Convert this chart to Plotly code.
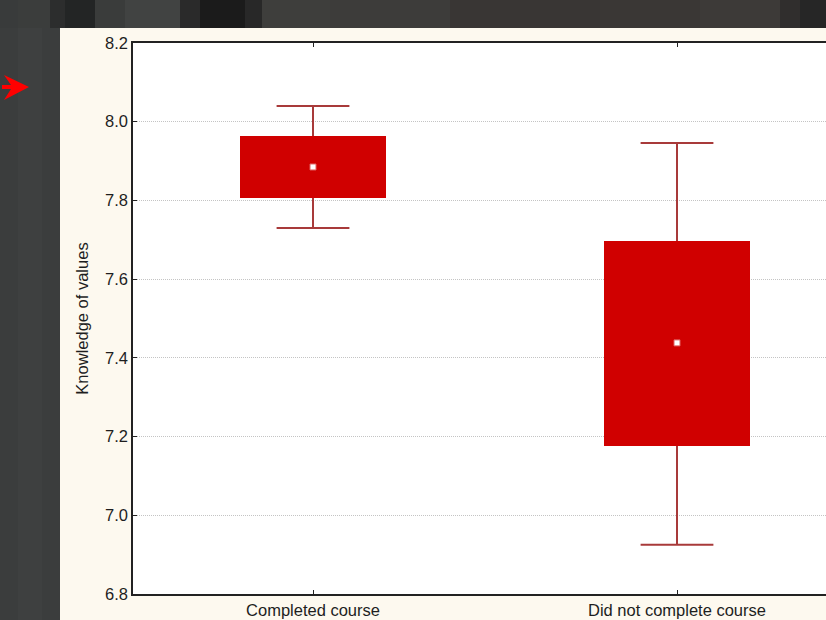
import plotly.graph_objects as go

# Group statistics: mean, box (mean ± SE) and whiskers (mean ± 1.96·SE)
groups = ["Completed course", "Did not complete course"]
means = [7.885, 7.438]
box_low = [7.806, 7.176]
box_high = [7.964, 7.697]
whisker_low = [7.730, 6.925]
whisker_high = [8.040, 7.946]

y_ticks = [6.8, 7.0, 7.2, 7.4, 7.6, 7.8, 8.0, 8.2]

W, H = 826, 620
ML, MR, MT, MB = 133, 0, 43, 26
PW, PH = W - ML - MR, H - MT - MB

BOX_FILL = "#d00000"
WHISKER = "#a83a3a"
CAP_HALF = 0.1
BOX_WIDTH = 0.4

xpos = list(range(len(groups)))

fig = go.Figure()

# boxes
fig.add_trace(go.Bar(
    x=xpos,
    base=box_low,
    y=[h - l for h, l in zip(box_high, box_low)],
    width=BOX_WIDTH,
    marker=dict(color=BOX_FILL, line=dict(width=0)),
    hoverinfo="skip",
    showlegend=False,
))

# whiskers with caps
wx, wy = [], []
for i, (bl, bh, lo, hi) in enumerate(zip(box_low, box_high, whisker_low, whisker_high)):
    wx += [i, i, None, i - CAP_HALF, i + CAP_HALF, None]
    wy += [bh, hi, None, hi, hi, None]
    wx += [i, i, None, i - CAP_HALF, i + CAP_HALF, None]
    wy += [bl, lo, None, lo, lo, None]
fig.add_trace(go.Scatter(
    x=wx, y=wy, mode="lines",
    line=dict(color=WHISKER, width=2),
    hoverinfo="skip", showlegend=False,
))

# mean markers
fig.add_trace(go.Scatter(
    x=xpos, y=means, mode="markers",
    marker=dict(symbol="square", size=6, color="white",
                line=dict(color="#e06060", width=1)),
    showlegend=False,
))


def px_to_paper(x, y):
    return (x - ML) / PW, (H - MB - y) / PH


def rect(x0, y0, x1, y1, color):
    a, b = px_to_paper(x0, y0)
    c, d = px_to_paper(x1, y1)
    return dict(type="rect", xref="paper", yref="paper", x0=a, y0=d, x1=c, y1=b,
                fillcolor=color, line=dict(width=0), layer="below")


shapes = []
# dark frame: left strip and top band in blocky shades
shapes.append(rect(0, 0, W, H, "#3b3d3d"))
shapes.append(rect(18, 28, 42, H, "#3e4040"))
top_band = [
    (0, 18, "#393b3b"), (18, 50, "#3b3d3c"), (50, 65, "#2c2d2d"), (65, 95, "#232525"),
    (95, 125, "#3a3c3b"), (125, 180, "#414342"), (180, 200, "#2a2a2a"), (200, 245, "#1b1b1b"),
    (245, 262, "#282828"), (262, 330, "#3e3e3c"), (330, 450, "#3d3c3a"), (450, 600, "#393634"),
    (600, 700, "#3a3735"), (700, 780, "#3d3a38"), (780, 800, "#302e2d"), (800, W, "#262626"),
]
for x0, x1, c in top_band:
    shapes.append(rect(x0, 0, x1, 28, c))
# cream panel and white plotting area
shapes.append(rect(60, 28, W, H, "#fdf9ef"))
shapes.append(rect(ML, MT, W - MR, H - MB, "#ffffff"))

# red pointer arrow
pts = [(29, 87), (4, 75), (11, 85), (2, 85), (2, 89), (11, 89), (4, 100)]
path = ""
for k, (x, y) in enumerate(pts):
    a, b = px_to_paper(x, y)
    path += ("M" if k == 0 else "L") + f"{a},{b} "
path += "Z"
shapes.append(dict(type="path", xref="paper", yref="paper", path=path,
                   fillcolor="#ff0000", line=dict(width=0), layer="above"))

fig.update_layout(
    width=W, height=H,
    margin=dict(l=ML, r=MR, t=MT, b=MB, pad=0),
    paper_bgcolor="#3b3d3d",
    plot_bgcolor="white",
    shapes=shapes,
    bargap=0,
    font=dict(family="Liberation Sans, Arial, sans-serif", color="#1e1e1e"),
)

fig.update_xaxes(
    range=[-0.4945, (W - MR - ML - (313 - ML)) / 364],
    tickmode="array", tickvals=xpos, ticktext=groups,
    tickfont=dict(size=16.5, color="#1e1e1e"),
    showline=True, linecolor="#222222", linewidth=1.5,
    mirror="ticks", ticks="inside", ticklen=4, tickcolor="#222222",
    showgrid=False, zeroline=False,
)

fig.update_yaxes(
    range=[6.8, 8.2],
    tickmode="array", tickvals=y_ticks, ticktext=[f"{v:.1f}" for v in y_ticks],
    tickfont=dict(size=16.5, color="#1e1e1e"),
    showline=True, linecolor="#222222", linewidth=1.5,
    ticks="inside", ticklen=4, tickcolor="#222222",
    showgrid=True, gridcolor="#c4c4c4", griddash="1px,1px", gridwidth=1,
    zeroline=False,
    title=dict(text="Knowledge of values", font=dict(size=16.5, color="#1e1e1e"), standoff=12),
)

fig.write_html("out.html")
